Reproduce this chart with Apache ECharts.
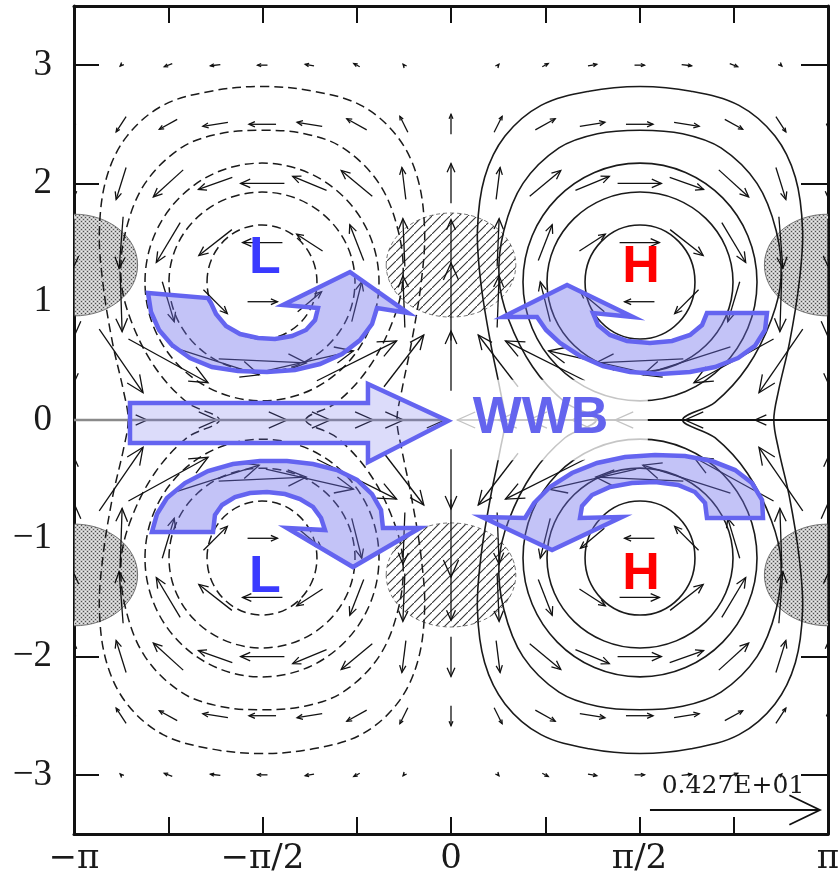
<!DOCTYPE html>
<html>
<head>
<meta charset="utf-8">
<script src="https://cdn.jsdelivr.net/npm/echarts@6/dist/echarts.min.js"></script>
<style>
  html, body { margin: 0; padding: 0; background: #ffffff; }
  #chart { width: 838px; height: 879px; }
</style>
</head>
<body>
<div id="chart"></div>
<script>
// ---------------------------------------------------------------
// Equatorial response to a westerly wind burst (WWB):
// low-level wind vectors, pressure contours, forcing regions.
// ---------------------------------------------------------------

// Wind grid: longitude columns every pi/8, latitude rows every 0.5
const COL_INDEX = [-8, -7, -6, -5, -4, -3, -2, -1, 0, 1, 2, 3, 4, 5, 6, 7, 8];
const COL_STEP = Math.PI / 8;
const Y_ROWS = [3, 2.5, 2, 1.5, 1, 0.5, 0, -0.5, -1, -1.5, -2, -2.5, -3];

// zonal wind u, one row per latitude (west -> east)
const U_ROWS = [
  [0, -0.05, -0.2, -0.25, -0.25, -0.22, -0.15, -0.04, 0, 0.04, 0.15, 0.22, 0.25, 0.25, 0.2, 0.05, 0],
  [0, -0.25, -0.45, -0.63, -0.68, -0.63, -0.5, -0.2, 0, 0.2, 0.5, 0.63, 0.68, 0.63, 0.45, 0.25, 0],
  [0, -0.25, -0.75, -0.85, -1.1, -0.85, -0.78, -0.1, 0, 0.1, 0.78, 0.85, 1.1, 0.85, 0.75, 0.25, 0],
  [0, -0.1, -0.6, -0.83, -1.0, -0.65, -0.35, -0.05, 0, 0.05, 0.35, 0.65, 1.0, 0.83, 0.6, 0.1, 0],
  [0, 0.05, 0.3, 0.6, 0.75, 0.6, 0.25, -0.05, 0, 0.05, -0.25, -0.6, -0.75, -0.6, -0.3, -0.05, 0],
  [0, 1.1, 2.0, 2.2, 2.2, 2.2, 2.0, 1.0, 0, -1.0, -2.0, -2.2, -2.2, -2.2, -2.0, -1.1, 0],
  [0, 1.3, 2.45, 3.6, 3.4, 3.2, 2.35, 2.05, 0, -2.05, -2.35, -3.2, -3.4, -3.6, -2.45, -1.3, 0],
  [0, 1.1, 2.0, 2.2, 2.2, 2.2, 2.0, 1.0, 0, -1.0, -2.0, -2.2, -2.2, -2.2, -2.0, -1.1, 0],
  [0, 0.05, 0.3, 0.6, 0.75, 0.6, 0.25, -0.05, 0, 0.05, -0.25, -0.6, -0.75, -0.6, -0.3, -0.05, 0],
  [0, -0.1, -0.6, -0.83, -1.0, -0.65, -0.35, -0.05, 0, 0.05, 0.35, 0.65, 1.0, 0.83, 0.6, 0.1, 0],
  [0, -0.25, -0.75, -0.85, -1.1, -0.85, -0.78, -0.1, 0, 0.1, 0.78, 0.85, 1.1, 0.85, 0.75, 0.25, 0],
  [0, -0.25, -0.45, -0.63, -0.68, -0.63, -0.5, -0.2, 0, 0.2, 0.5, 0.63, 0.68, 0.63, 0.45, 0.25, 0],
  [0, -0.05, -0.2, -0.25, -0.25, -0.22, -0.15, -0.04, 0, 0.04, 0.15, 0.22, 0.25, 0.25, 0.2, 0.05, 0]
];

// meridional wind v, one row per latitude
const V_ROWS = [
  [0, -0.05, -0.08, -0.03, 0, 0.04, 0.08, 0.05, 0.02, 0.05, 0.08, 0.04, 0, -0.03, -0.08, -0.05, 0],
  [-0.15, -0.38, -0.25, -0.1, 0, 0.1, 0.28, 0.4, 0.5, 0.4, 0.28, 0.1, 0, -0.1, -0.25, -0.38, -0.15],
  [-0.7, -0.8, -0.68, -0.3, 0, 0.35, 0.65, 0.8, 1.0, 0.8, 0.65, 0.35, 0, -0.3, -0.68, -0.8, -0.7],
  [-1.2, -1.3, -1.0, -0.65, 0, 0.42, 0.9, 1.2, 1.15, 1.2, 0.9, 0.42, 0, -0.65, -1.0, -1.3, -1.2],
  [-1.75, -1.5, -1.0, -0.6, 0, 0.5, 1.0, 1.3, 1.95, 1.3, 1.0, 0.5, 0, -0.6, -1.0, -1.5, -1.75],
  [-1.1, -1.6, -1.1, -0.7, -0.1, 0.5, 1.0, 1.3, 1.5, 1.3, 1.0, 0.5, -0.1, -0.7, -1.1, -1.6, -1.1],
  [0, 0, 0, 0, 0, 0, 0, 0, 0, 0, 0, 0, 0, 0, 0, 0, 0],
  [1.1, 1.6, 1.1, 0.7, 0.1, -0.5, -1.0, -1.3, -1.5, -1.3, -1.0, -0.5, 0.1, 0.7, 1.1, 1.6, 1.1],
  [1.75, 1.5, 1.0, 0.6, 0, -0.5, -1.0, -1.3, -1.95, -1.3, -1.0, -0.5, 0, 0.6, 1.0, 1.5, 1.75],
  [1.2, 1.3, 1.0, 0.65, 0, -0.42, -0.9, -1.2, -1.15, -1.2, -0.9, -0.42, 0, 0.65, 1.0, 1.3, 1.2],
  [0.7, 0.8, 0.68, 0.3, 0, -0.35, -0.65, -0.8, -1.0, -0.8, -0.65, -0.35, 0, 0.3, 0.68, 0.8, 0.7],
  [0.15, 0.38, 0.25, 0.1, 0, -0.1, -0.28, -0.4, -0.5, -0.4, -0.28, -0.1, 0, 0.1, 0.25, 0.38, 0.15],
  [0, 0.05, 0.08, 0.03, 0, -0.04, -0.08, -0.05, -0.02, -0.05, -0.08, -0.04, 0, 0.03, 0.08, 0.05, 0]
];

// reference vector
const REF_VECTOR = { x: 1.658, y: -3.297, value: 4.27, label: '0.427E+01', labelAt: [2.35, -3.1] };

// closed pressure contours around each centre: [cx, cy, rx, ry]
const HIGH_RINGS = [
  [1.575, 1.167, 0.458, 0.482], [1.575, 1.167, 0.775, 0.76], [1.575, 1.167, 0.975, 1.005],
  [1.575, -1.167, 0.458, 0.482], [1.575, -1.167, 0.775, 0.76], [1.575, -1.167, 0.975, 1.005]
];
const LOW_RINGS = [
  [-1.575, 1.167, 0.458, 0.482], [-1.575, 1.167, 0.775, 0.76], [-1.575, 1.167, 0.975, 1.005],
  [-1.575, -1.167, 0.458, 0.482], [-1.575, -1.167, 0.775, 0.76], [-1.575, -1.167, 0.975, 1.005]
];

// outer contours that cross the equator
const HIGH_OUTER_A = [[1.21,0],[0.95,0.15],[0.68,0.45],[0.48,0.85],[0.4,1.2],[0.44,1.6],[0.6,2.0],[0.9,2.3],[1.22,2.42],[1.575,2.45],[1.93,2.42],[2.25,2.3],[2.55,2.0],[2.71,1.6],[2.75,1.2],[2.67,0.85],[2.47,0.45],[2.2,0.15],[1.93,0],[2.2,-0.15],[2.47,-0.45],[2.67,-0.85],[2.75,-1.2],[2.71,-1.6],[2.55,-2.0],[2.25,-2.3],[1.93,-2.42],[1.575,-2.45],[1.22,-2.42],[0.9,-2.3],[0.6,-2.0],[0.44,-1.6],[0.4,-1.2],[0.48,-0.85],[0.68,-0.45],[0.95,-0.15]];
const HIGH_OUTER_B = [[0.45,0],[0.41,0.25],[0.33,0.65],[0.25,1.15],[0.22,1.6],[0.28,2.05],[0.45,2.4],[0.75,2.66],[1.15,2.78],[1.575,2.82],[2.0,2.78],[2.4,2.66],[2.7,2.4],[2.87,2.05],[2.93,1.6],[2.9,1.15],[2.82,0.65],[2.73,0.25],[2.69,0],[2.73,-0.25],[2.82,-0.65],[2.9,-1.15],[2.93,-1.6],[2.87,-2.05],[2.7,-2.4],[2.4,-2.66],[2.0,-2.78],[1.575,-2.82],[1.15,-2.78],[0.75,-2.66],[0.45,-2.4],[0.28,-2.05],[0.22,-1.6],[0.25,-1.15],[0.33,-0.65],[0.41,-0.25]];
const LOW_OUTER_A = [[-1.21,0],[-0.95,0.15],[-0.68,0.45],[-0.48,0.85],[-0.4,1.2],[-0.44,1.6],[-0.6,2.0],[-0.9,2.3],[-1.22,2.42],[-1.575,2.45],[-1.93,2.42],[-2.25,2.3],[-2.55,2.0],[-2.71,1.6],[-2.75,1.2],[-2.67,0.85],[-2.47,0.45],[-2.2,0.15],[-1.93,0],[-2.2,-0.15],[-2.47,-0.45],[-2.67,-0.85],[-2.75,-1.2],[-2.71,-1.6],[-2.55,-2.0],[-2.25,-2.3],[-1.93,-2.42],[-1.575,-2.45],[-1.22,-2.42],[-0.9,-2.3],[-0.6,-2.0],[-0.44,-1.6],[-0.4,-1.2],[-0.48,-0.85],[-0.68,-0.45],[-0.95,-0.15]];
const LOW_OUTER_B = [[-0.45,0],[-0.41,0.25],[-0.33,0.65],[-0.25,1.15],[-0.22,1.6],[-0.28,2.05],[-0.45,2.4],[-0.75,2.66],[-1.15,2.78],[-1.575,2.82],[-2.0,2.78],[-2.4,2.66],[-2.7,2.4],[-2.87,2.05],[-2.93,1.6],[-2.9,1.15],[-2.82,0.65],[-2.73,0.25],[-2.69,0],[-2.73,-0.25],[-2.82,-0.65],[-2.9,-1.15],[-2.93,-1.6],[-2.87,-2.05],[-2.7,-2.4],[-2.4,-2.66],[-2.0,-2.78],[-1.575,-2.82],[-1.15,-2.78],[-0.75,-2.66],[-0.45,-2.4],[-0.28,-2.05],[-0.22,-1.6],[-0.25,-1.15],[-0.33,-0.65],[-0.41,-0.25]];

// forcing regions: [cx, cy, rx, ry]
const HEATING = [[0, 1.31, 0.54, 0.44], [0, -1.31, 0.54, 0.44]];
const COOLING = [[-Math.PI, 1.31, 0.53, 0.43], [-Math.PI, -1.31, 0.53, 0.43],
                 [Math.PI, 1.31, 0.53, 0.43], [Math.PI, -1.31, 0.53, 0.43]];

// equator line segments
const EQ_WEST = [[-Math.PI, 0], [-0.05, 0]];
const EQ_EAST = [[1.63, 0], [Math.PI, 0]];
// faded band around the WWB label: [x0, y0, x1, y1]
const WWB_BAND = [0.033, -0.34, 1.64, 0.34];

// schematic flow arrows (outlines in axis units)
const FLOW_NW = [[-2.525,1.074],[-2.5,0.913],[-2.433,0.761],[-2.325,0.634],[-2.175,0.524],[-1.992,0.448],[-1.775,0.414],[-1.533,0.406],[-1.3,0.423],[-1.092,0.473],[-0.908,0.558],[-0.758,0.676],[-0.658,0.811],[-0.617,0.947],[-0.358,0.904],[-0.842,1.251],[-1.4,0.972],[-1.108,0.947],[-1.133,0.845],[-1.208,0.761],[-1.325,0.71],[-1.467,0.685],[-1.608,0.693],[-1.758,0.727],[-1.875,0.795],[-1.958,0.896],[-2.0,0.989],[-2.025,1.031]];
const FLOW_SW = [[-2.492,-0.947],[-1.983,-0.947],[-1.967,-0.803],[-1.908,-0.719],[-1.8,-0.651],[-1.675,-0.617],[-1.533,-0.609],[-1.383,-0.626],[-1.258,-0.668],[-1.15,-0.735],[-1.083,-0.828],[-1.05,-0.93],[-1.367,-0.913],[-0.817,-1.243],[-0.258,-0.913],[-0.567,-0.913],[-0.583,-0.761],[-0.658,-0.626],[-0.783,-0.507],[-0.95,-0.423],[-1.15,-0.372],[-1.367,-0.347],[-1.592,-0.347],[-1.817,-0.372],[-2.025,-0.431],[-2.217,-0.533],[-2.367,-0.659],[-2.45,-0.795]];
const FLOW_NE = [[0.433,0.871],[0.967,1.141],[1.517,0.871],[1.183,0.904],[1.225,0.803],[1.325,0.719],[1.467,0.668],[1.658,0.651],[1.842,0.668],[1.992,0.719],[2.092,0.803],[2.133,0.904],[2.633,0.904],[2.617,0.761],[2.533,0.626],[2.392,0.524],[2.2,0.448],[1.992,0.406],[1.742,0.389],[1.492,0.406],[1.267,0.456],[1.075,0.541],[0.908,0.651],[0.792,0.761],[0.717,0.871]];
const FLOW_SE = [[0.258,-0.82],[0.842,-1.099],[1.425,-0.82],[1.075,-0.828],[1.092,-0.727],[1.175,-0.634],[1.325,-0.566],[1.508,-0.533],[1.7,-0.524],[1.892,-0.549],[2.033,-0.609],[2.117,-0.702],[2.133,-0.828],[2.6,-0.828],[2.592,-0.676],[2.508,-0.533],[2.367,-0.423],[2.175,-0.347],[1.95,-0.304],[1.7,-0.296],[1.45,-0.313],[1.217,-0.363],[1.008,-0.448],[0.825,-0.566],[0.692,-0.702],[0.617,-0.828]];
const FLOW_EQ = [[-2.675,0.144],[-0.692,0.144],[-0.692,0.304],[-0.025,-0.008],[-0.692,-0.355],[-0.692,-0.194],[-2.675,-0.194]];

// centre labels
const LOW_LABELS = [[-1.55, 1.361], [-1.55, -1.336]];
const HIGH_LABELS = [[1.583, 1.285], [1.583, -1.31]];
const WWB_LABEL = [0.746, 0.008];

// x tick labels at multiples of pi/2
const X_TICK_TEXT = { '-4': '−π', '-2': '−π/2', '0': '0', '2': 'π/2', '4': 'π' };

// ---------------------------------------------------------------
const PX_PER_UNIT = 170 / 4.27;   // arrow length scale

function makeHatch() {
  const c = document.createElement('canvas');
  c.width = 9; c.height = 9;
  const g = c.getContext('2d');
  g.strokeStyle = '#333333';
  g.lineWidth = 1.1;
  g.beginPath();
  g.moveTo(-1, 10); g.lineTo(10, -1);
  g.stroke();
  return c;
}
function makeDots() {
  const c = document.createElement('canvas');
  c.width = 4; c.height = 4;
  const g = c.getContext('2d');
  g.fillStyle = '#c4c4c4';
  g.fillRect(0, 0, 4, 4);
  g.fillStyle = '#4e4e4e';
  g.fillRect(1, 1, 1, 1);
  g.fillRect(3, 3, 1, 1);
  g.fillStyle = '#ececec';
  g.fillRect(3, 1, 1, 1);
  g.fillRect(1, 3, 1, 1);
  return c;
}
const HATCH = { image: makeHatch(), repeat: 'repeat' };
const DOTS = { image: makeDots(), repeat: 'repeat' };

function arrowParts(x0, y0, x1, y1, head, spread, style) {
  const ang = Math.atan2(y1 - y0, x1 - x0);
  const a1 = ang + Math.PI - spread, a2 = ang + Math.PI + spread;
  return [
    { type: 'line', shape: { x1: x0, y1: y0, x2: x1, y2: y1 }, style: style },
    { type: 'polyline', shape: { points: [
      [x1 + head * Math.cos(a1), y1 + head * Math.sin(a1)],
      [x1, y1],
      [x1 + head * Math.cos(a2), y1 + head * Math.sin(a2)]
    ] }, style: style }
  ];
}

const vectorData = [];
Y_ROWS.forEach((y, r) => {
  COL_INDEX.forEach((k, c) => {
    vectorData.push([k * COL_STEP, y, U_ROWS[r][c], V_ROWS[r][c]]);
  });
});

function ellipseSeries(list, style, z) {
  return {
    type: 'custom', coordinateSystem: 'cartesian2d', z: z, silent: true, clip: true,
    data: list,
    renderItem: function (params, api) {
      const c = api.coord([api.value(0), api.value(1)]);
      const s = api.size([api.value(2), api.value(3)]);
      return { type: 'ellipse', shape: { cx: c[0], cy: c[1], rx: s[0], ry: s[1] }, style: style };
    }
  };
}

function outlineSeries(paths, style, z, smooth) {
  return {
    type: 'custom', coordinateSystem: 'cartesian2d', z: z, silent: true, clip: true,
    data: paths.map((p, i) => [p[0][0], p[0][1], i]),
    renderItem: function (params, api) {
      const pts = paths[api.value(2)].map(p => api.coord(p));
      return { type: 'polygon', shape: { points: pts, smooth: smooth || 0 }, style: style };
    }
  };
}

function labelSeries(points, text, color, z) {
  return {
    type: 'custom', coordinateSystem: 'cartesian2d', z: z, silent: true,
    data: points,
    renderItem: function (params, api) {
      const c = api.coord([api.value(0), api.value(1)]);
      return { type: 'text', x: c[0], y: c[1], style: {
        text: text, fill: color, font: 'bold 52px "Liberation Sans", Arial, sans-serif',
        align: 'center', verticalAlign: 'middle' } };
    }
  };
}

const chart = echarts.init(document.getElementById('chart'), null, { renderer: 'canvas' });

const xAxisBase = {
  type: 'value', min: -Math.PI, max: Math.PI, interval: Math.PI / 4,
  splitLine: { show: false },
  axisLine: { show: true, onZero: false, lineStyle: { color: '#111', width: 3 } },
  axisTick: { show: true, inside: true, length: 17, lineStyle: { color: '#111', width: 2 } }
};
const yAxisBase = {
  type: 'value', min: -3.5, max: 3.5, splitNumber: 7,
  splitLine: { show: false },
  axisLine: { show: true, onZero: false, lineStyle: { color: '#111', width: 3 } },
  axisTick: { show: true, inside: true, length: 25, lineStyle: { color: '#111', width: 2 } }
};

chart.setOption({
  animation: false,
  backgroundColor: '#ffffff',
  grid: { left: 74, right: 10, top: 6, bottom: 45, containLabel: false, outerBoundsMode: 'none' },
  xAxis: [
    Object.assign({}, xAxisBase, {
      position: 'bottom',
      axisLabel: {
        show: true, margin: 8, color: '#1a1a1a', fontSize: 34, fontFamily: '"DejaVu Serif", serif',
        showMinLabel: true, showMaxLabel: true,
        formatter: function (v) {
          const k = Math.round(v / (Math.PI / 4));
          return X_TICK_TEXT[String(k)] || '';
        }
      }
    }),
    Object.assign({}, xAxisBase, { position: 'top', axisLabel: { show: false } })
  ],
  yAxis: [
    Object.assign({}, yAxisBase, {
      position: 'left',
      axisLabel: {
        show: true, margin: 22, color: '#1a1a1a', fontSize: 37, fontFamily: '"Liberation Serif", serif',
        formatter: function (v) {
          const r = Math.round(v);
          if (Math.abs(v - r) > 1e-6) return '';
          return r < 0 ? '−' + (-r) : String(r);
        }
      }
    }),
    Object.assign({}, yAxisBase, { position: 'right', axisLabel: { show: false },
      axisTick: { show: true, inside: true, length: 27, lineStyle: { color: '#111', width: 2 } } })
  ],
  series: [
    // forcing regions
    ellipseSeries(HEATING, { fill: HATCH, stroke: '#555', lineWidth: 0.8, lineDash: [4, 3] }, 1),
    ellipseSeries(COOLING, { fill: DOTS, stroke: '#666', lineWidth: 0.9 }, 1),
    // pressure contours
    ellipseSeries(HIGH_RINGS, { fill: null, stroke: '#1a1a1a', lineWidth: 1.6 }, 2),
    ellipseSeries(LOW_RINGS, { fill: null, stroke: '#1a1a1a', lineWidth: 1.5, lineDash: [9, 5] }, 2),
    outlineSeries([HIGH_OUTER_A, HIGH_OUTER_B], { fill: null, stroke: '#1a1a1a', lineWidth: 1.6 }, 2, 0.35),
    outlineSeries([LOW_OUTER_A, LOW_OUTER_B], { fill: null, stroke: '#1a1a1a', lineWidth: 1.5, lineDash: [9, 5] }, 2, 0.35),
    // equator
    { type: 'line', data: EQ_WEST, z: 3, silent: true, showSymbol: false, symbol: 'none',
      lineStyle: { color: '#8a8a8a', width: 2.5 } },
    { type: 'line', data: EQ_EAST, z: 3, silent: true, showSymbol: false, symbol: 'none',
      lineStyle: { color: '#111', width: 2 } },
    // wind vectors, centred on grid points
    {
      type: 'custom', coordinateSystem: 'cartesian2d', z: 3, silent: true, clip: true,
      data: vectorData,
      renderItem: function (params, api) {
        const p = api.coord([api.value(0), api.value(1)]);
        const dx = api.value(2) * PX_PER_UNIT, dy = -api.value(3) * PX_PER_UNIT;
        const len = Math.hypot(dx, dy);
        if (len < 2) return;
        const head = Math.max(4, Math.min(20, len * 0.24));
        const style = { stroke: '#111', lineWidth: 1.3, fill: null };
        return { type: 'group', children: arrowParts(p[0] - dx / 2, p[1] - dy / 2, p[0] + dx / 2, p[1] + dy / 2, head, 0.42, style) };
      }
    },
    // reference vector
    {
      type: 'custom', coordinateSystem: 'cartesian2d', z: 3, silent: true,
      data: [[REF_VECTOR.x, REF_VECTOR.y, REF_VECTOR.value]],
      renderItem: function (params, api) {
        const p = api.coord([api.value(0), api.value(1)]);
        const L = api.value(2) * PX_PER_UNIT;
        const style = { stroke: '#111', lineWidth: 1.8, fill: null };
        const t = api.coord(REF_VECTOR.labelAt);
        return { type: 'group', children: arrowParts(p[0], p[1], p[0] + L, p[1], 34, 0.45, style).concat([
          { type: 'text', x: t[0], y: t[1], style: { text: REF_VECTOR.label, fill: '#1a1a1a',
            font: '25px "DejaVu Serif", serif', align: 'center', verticalAlign: 'middle' } }
        ]) };
      }
    },
    // faded band behind the WWB label
    {
      type: 'custom', coordinateSystem: 'cartesian2d', z: 4, silent: true,
      data: [WWB_BAND],
      renderItem: function (params, api) {
        const a = api.coord([api.value(0), api.value(3)]);
        const b = api.coord([api.value(2), api.value(1)]);
        return { type: 'rect', shape: { x: a[0], y: a[1], width: b[0] - a[0], height: b[1] - a[1] },
          style: { fill: 'rgba(255,255,255,0.75)' } };
      }
    },
    // schematic flow arrows
    outlineSeries([FLOW_NW, FLOW_SW, FLOW_NE, FLOW_SE],
      { fill: 'rgba(110,110,235,0.41)', stroke: '#6464f0', lineWidth: 4.5, lineJoin: 'miter' }, 5, 0),
    outlineSeries([FLOW_EQ],
      { fill: 'rgba(110,110,235,0.24)', stroke: '#6464f0', lineWidth: 4.5, lineJoin: 'miter' }, 5, 0),
    // labels
    labelSeries(LOW_LABELS, 'L', '#3a3aff', 6),
    labelSeries(HIGH_LABELS, 'H', '#ff0000', 6),
    labelSeries([WWB_LABEL], 'WWB', '#6464ee', 6)
  ]
});
</script>
</body>
</html>
